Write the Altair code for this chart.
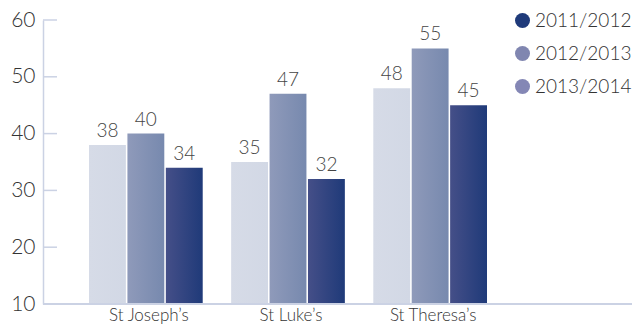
import altair as alt
import pandas as pd

schools = ["St Joseph’s", "St Luke’s", "St Theresa’s"]
years = ["2011/2012", "2012/2013", "2013/2014"]
vals_2011 = [38, 35, 48]
vals_2012 = [40, 47, 55]
vals_2013 = [34, 32, 45]
y_ticks = [10, 20, 30, 40, 50, 60]
legend_colors = ["#1f3a7a", "#8086b0", "#8487b5"]

W, H = 589, 284
FONT = "Lato"
WEIGHT = 300
AXIS_COLOR = "#cbd2e4"

rows = []
for yr, vals in zip(years, [vals_2011, vals_2012, vals_2013]):
    for s, v in zip(schools, vals):
        rows.append({"school": s, "year": yr, "value": v})
df = pd.DataFrame(rows)
ticks_df = pd.DataFrame({"tick": y_ticks})

# horizontal gradients used for each series of bars
fills = {
    "2011/2012": alt.LinearGradient(
        gradient="linear", x1=0, x2=1, y1=0, y2=0,
        stops=[alt.GradientStop(color="#d6dbe7", offset=0),
               alt.GradientStop(color="#d2d8e5", offset=1)]),
    "2012/2013": alt.LinearGradient(
        gradient="linear", x1=0, x2=1, y1=0, y2=0,
        stops=[alt.GradientStop(color="#8f9aba", offset=0),
               alt.GradientStop(color="#7789ae", offset=1)]),
    "2013/2014": alt.LinearGradient(
        gradient="linear", x1=0, x2=1, y1=0, y2=0,
        stops=[alt.GradientStop(color="#454f88", offset=0),
               alt.GradientStop(color="#1f3a79", offset=1)]),
}

x_enc = alt.X(
    "school:N", sort=schools, title=None,
    scale=alt.Scale(domain=schools, range=[46, 444], paddingInner=0.2, paddingOuter=0),
    axis=alt.Axis(domain=False, ticks=False, labelAngle=0, labelFont=FONT,
                  labelFontWeight=WEIGHT, labelFontSize=17, labelColor="#333333",
                  labelPadding=3, labelOffset=3),
)
xoff_enc = alt.XOffset("year:N", sort=years,
                       scale=alt.Scale(domain=years, paddingInner=0.04, paddingOuter=0))
y_enc = alt.Y(
    "value:Q", title=None,
    scale=alt.Scale(domain=[10, 60], zero=False, nice=False),
    axis=alt.Axis(values=y_ticks, ticks=False, grid=False, domainColor=AXIS_COLOR,
                  domainWidth=1.5, labelFont=FONT, labelFontWeight=WEIGHT,
                  labelFontSize=21, labelColor="#333333", labelPadding=8),
)

base = alt.Chart(df)

bar_layers = [
    base.transform_filter(alt.datum.year == yr)
    .mark_bar(color=fills[yr])
    .encode(x=x_enc, xOffset=xoff_enc, y=y_enc, y2=alt.datum(10))
    for yr in years
]

labels = base.mark_text(baseline="bottom", dy=-4, font=FONT, fontWeight=WEIGHT,
                        fontSize=19, color="#444444").encode(
    x=x_enc, xOffset=xoff_enc, y=y_enc, text="value:Q")

# short tick stubs pointing into the plot
stubs = alt.Chart(ticks_df).mark_rule(color=AXIS_COLOR, strokeWidth=1.5).encode(
    y=alt.Y("tick:Q"), x=alt.value(0), x2=alt.value(14))

baseline = alt.Chart(ticks_df).mark_rule(color=AXIS_COLOR, strokeWidth=2).encode(
    y=alt.datum(10), x=alt.value(0), x2=alt.value(W))

legend_layer = base.mark_point(filled=True, opacity=0, shape="circle").encode(
    color=alt.Color(
        "year:N", sort=years, title=None,
        scale=alt.Scale(domain=years, range=legend_colors),
        legend=alt.Legend(orient="none", legendX=470, legendY=-9,
                          symbolType="circle", symbolSize=225, symbolOpacity=1,
                          symbolStrokeWidth=0, labelFont=FONT, labelFontWeight=WEIGHT,
                          labelFontSize=19, labelColor="#333333", labelOffset=3,
                          rowPadding=13, padding=0),
    )
)

chart = alt.layer(*bar_layers, labels, stubs, baseline, legend_layer).properties(
    width=W, height=H,
    padding={"left": 43, "top": 20, "right": 6, "bottom": 20},
    autosize=alt.AutoSizeParams(type="none"),
    background="white",
).configure_view(stroke=None)

chart.save("out.html", embed_options={"renderer": "svg", "actions": False})
